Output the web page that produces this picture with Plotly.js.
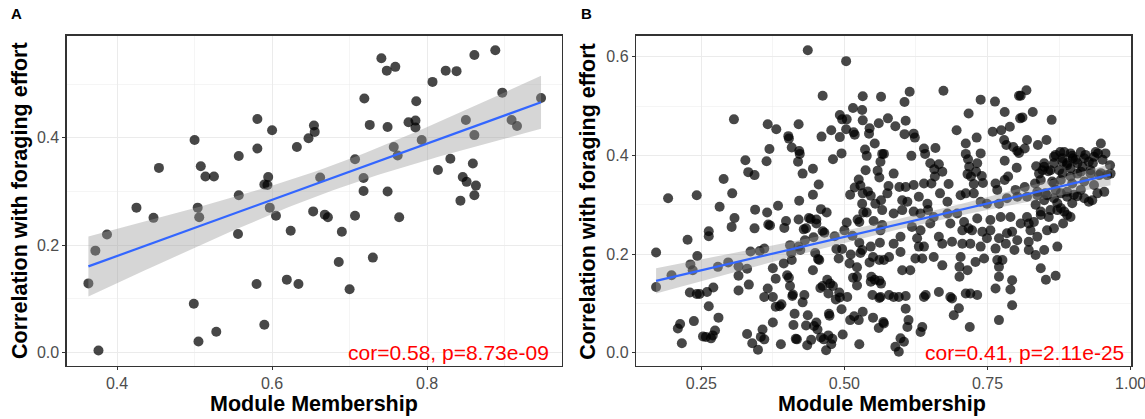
<!DOCTYPE html>
<html><head><meta charset="utf-8">
<script src="https://cdn.plot.ly/plotly-3.0.1.min.js"></script>
<style>html,body{margin:0;padding:0;background:#fff}</style>
</head><body>
<div id="chart" style="width:1145px;height:419px"></div>
<script>
// Panel A: module membership vs correlation with foraging effort
const mmA = [0.363,0.372,0.387,0.376,0.425,0.447,0.454,0.500,0.499,0.505,
0.508,0.514,0.525,0.504,0.506,0.528,0.557,0.557,0.556,0.581,
0.581,0.600,0.595,0.590,0.594,0.597,0.605,0.580,0.590,0.619,
0.624,0.632,0.634,0.647,0.654,0.655,0.662,0.653,0.668,0.672,
0.690,0.686,0.700,0.707,0.707,0.718,0.718,0.719,0.726,0.730,
0.741,0.748,0.759,0.749,0.749,0.757,0.762,0.764,0.776,0.785,
0.785,0.786,0.793,0.807,0.814,0.824,0.830,0.838,0.843,0.846,
0.851,0.850,0.861,0.861,0.859,0.863,0.861,0.888,0.897,0.909,
0.916,0.947];
const corA = [0.129,0.190,0.220,0.004,0.270,0.251,0.344,0.396,0.091,0.021,
0.347,0.328,0.328,0.270,0.252,0.039,0.366,0.293,0.221,0.435,
0.380,0.414,0.327,0.313,0.312,0.270,0.255,0.128,0.052,0.136,
0.227,0.383,0.128,0.399,0.423,0.411,0.326,0.263,0.257,0.252,
0.225,0.169,0.118,0.360,0.255,0.325,0.301,0.473,0.424,0.177,
0.548,0.525,0.532,0.420,0.300,0.383,0.367,0.252,0.429,0.432,
0.419,0.468,0.396,0.504,0.340,0.525,0.361,0.524,0.283,0.327,
0.318,0.433,0.554,0.405,0.352,0.311,0.293,0.563,0.484,0.433,
0.422,0.474];

// Panel B
const mmB = [
0.436,0.503,0.462,0.532,0.564,
0.307,0.366,0.381,0.420,0.492,0.496,0.504,0.515,0.531,0.532,0.560,
0.402,0.403,0.460,0.477,0.492,0.503,0.516,0.518,0.544,0.543,
0.369,0.408,0.421,0.422,0.419,0.364,0.495,0.480,0.536,0.539,0.553,0.566,
0.327,0.332,0.343,0.289,0.427,0.445,0.537,0.558,0.561,
0.192,0.242,0.304,0.282,0.455,0.445,0.510,0.518,0.525,0.528,0.532,0.541,0.546,0.554,0.564,
0.344,0.365,0.384,0.421,0.459,0.469,0.531,0.533,0.539,0.566,
0.308,0.303,0.367,0.370,0.398,0.395,0.420,0.438,0.441,0.451,0.451,0.343,0.263,0.263,0.429,0.433,0.504,0.500,0.523,0.526,0.551,
0.226,0.462,0.465,0.483,0.514,0.526,0.546,0.562,
0.171,0.243,0.336,0.352,0.360,0.405,0.420,0.423,0.431,0.446,0.486,0.496,0.511,0.528,0.531,0.550,
0.231,0.235,0.279,0.297,0.315,0.330,0.375,0.394,0.408,0.407,0.449,0.454,0.456,0.490,0.509,0.522,0.544,0.561,
0.198,0.171,0.315,0.380,0.400,0.403,0.445,0.470,0.475,0.515,0.522,0.547,0.553,0.561,0.564,0.546,
0.230,0.242,0.247,0.260,0.271,0.315,0.333,0.366,0.360,0.375,0.387,0.390,0.380,0.405,0.410,0.409,0.430,0.427,0.458,0.462,0.472,0.480,0.491,0.492,0.485,0.505,0.522,0.549,0.561,
0.263,0.280,0.237,0.213,0.209,0.253,0.258,0.267,0.274,0.270,0.216,0.330,0.339,0.349,0.354,0.360,0.357,0.375,0.389,0.411,0.413,0.415,0.417,0.436,0.433,0.435,0.442,0.447,0.451,0.453,0.459,0.464,0.468,0.473,0.474,0.479,0.477,0.472,0.495,0.497,0.510,0.517,0.525,0.526,0.532,0.550,0.560,0.568,
0.614,0.605,0.673,0.738,0.763,0.805,0.818,0.808,
0.576,0.607,0.589,0.717,0.780,0.829,0.862,0.807,0.811,
0.605,0.621,0.623,0.696,0.731,0.759,0.774,0.789,0.779,0.819,0.853,0.838,
0.639,0.641,0.659,0.617,0.569,0.712,0.712,0.716,0.738,0.783,0.795,0.802,0.805,0.815,0.948,0.877,0.895,0.899,0.913,0.919,0.936,0.943,
0.563,0.586,0.650,0.665,0.657,0.718,0.732,0.730,0.780,0.801,0.835,0.849,0.866,0.881,0.889,0.907,0.916,0.934,0.964,
0.577,0.596,0.607,0.621,0.639,0.652,0.658,0.671,0.682,0.715,0.721,0.740,0.742,0.726,0.764,0.780,0.786,0.767,0.799,0.815,0.833,0.840,0.846,0.856,0.866,0.881,0.895,0.907,0.930,0.945,0.965,
0.575,0.601,0.610,0.630,0.645,0.667,0.680,0.703,0.712,0.726,0.738,0.749,0.770,0.784,0.802,0.819,0.837,0.854,0.866,0.878,0.889,0.907,0.919,0.927,0.942,0.954,0.913,
0.586,0.601,0.621,0.633,0.646,0.656,0.680,0.697,0.709,0.717,0.732,0.755,0.773,0.790,0.808,0.819,0.831,0.843,0.857,0.872,0.884,0.895,0.882,
0.566,0.563,0.586,0.598,0.618,0.633,0.650,0.665,0.685,0.706,0.723,0.741,0.755,0.770,0.784,0.793,0.802,0.822,0.825,0.837,0.854,0.866,
0.569,0.578,0.598,0.627,0.630,0.639,0.671,0.688,0.706,0.720,0.738,0.749,0.764,0.782,0.797,0.822,0.822,0.834,0.849,0.872,
0.601,0.615,0.624,0.636,0.656,0.671,0.703,0.701,0.701,0.715,0.729,0.744,0.767,0.776,0.770,0.770,0.793,0.843,0.852,0.869,
0.563,0.578,0.586,0.595,0.607,0.639,0.642,0.665,0.685,0.688,0.700,0.691,0.712,0.720,0.732,0.764,0.790,0.793,
0.569,0.607,0.612,0.610,0.636,0.633,0.598,0.604,0.589,0.595,0.719,0.770,
0.869,0.884,0.898,0.921,0.939,0.956,0.889,0.904,0.927,0.951,0.866,0.881,
0.849,0.860,0.875,0.895,0.913,0.930,0.948,0.959,0.843,0.863,0.878,0.898,0.919,0.936,
0.837,0.851,0.869,0.889,0.901,0.933,0.898,0.872,0.849,0.878,0.860,0.843,0.889,0.834];
const corB = [
0.613,0.591,0.521,0.520,0.519,
0.473,0.463,0.453,0.463,0.482,0.473,0.473,0.496,0.492,0.471,0.465,
0.439,0.434,0.438,0.451,0.437,0.453,0.447,0.442,0.455,0.444,
0.413,0.416,0.409,0.403,0.387,0.388,0.404,0.392,0.412,0.399,0.424,0.403,
0.390,0.366,0.360,0.352,0.363,0.373,0.370,0.369,0.355,
0.313,0.319,0.323,0.296,0.341,0.320,0.320,0.335,0.351,0.339,0.323,0.327,0.318,0.302,0.309,
0.290,0.284,0.298,0.308,0.291,0.284,0.302,0.284,0.284,0.289,
0.273,0.255,0.260,0.258,0.267,0.253,0.270,0.273,0.271,0.262,0.270,0.252,0.246,0.236,0.250,0.252,0.264,0.248,0.270,0.265,0.267,
0.229,0.246,0.243,0.236,0.237,0.223,0.215,0.223,
0.203,0.196,0.205,0.206,0.211,0.218,0.215,0.208,0.228,0.234,0.210,0.210,0.199,0.202,0.208,0.194,
0.179,0.167,0.174,0.183,0.175,0.170,0.171,0.181,0.188,0.202,0.202,0.190,0.188,0.191,0.181,0.173,0.183,0.188,
0.157,0.133,0.156,0.150,0.157,0.152,0.167,0.148,0.140,0.152,0.154,0.154,0.148,0.146,0.140,0.144,
0.122,0.119,0.119,0.123,0.132,0.126,0.138,0.130,0.113,0.113,0.094,0.098,0.093,0.135,0.118,0.115,0.117,0.102,0.131,0.135,0.120,0.135,0.122,0.112,0.108,0.113,0.136,0.117,0.111,
0.094,0.071,0.064,0.058,0.049,0.033,0.032,0.029,0.045,0.035,0.019,0.038,0.019,0.006,0.032,0.027,0.047,0.061,0.017,0.056,0.079,0.028,0.027,0.076,0.055,0.015,0.026,0.054,0.061,0.047,0.031,0.027,0.005,0.079,0.075,0.028,0.017,0.035,0.088,0.037,0.066,0.074,0.066,0.017,0.083,0.071,0.050,0.062,
0.529,0.508,0.531,0.513,0.509,0.521,0.532,0.521,
0.475,0.470,0.459,0.485,0.488,0.488,0.472,0.475,0.477,
0.443,0.444,0.436,0.451,0.436,0.448,0.451,0.458,0.431,0.431,0.431,0.421,
0.414,0.403,0.415,0.399,0.403,0.424,0.403,0.392,0.404,0.421,0.417,0.409,0.405,0.414,0.424,0.407,0.404,0.394,0.407,0.394,0.397,0.404,
0.387,0.363,0.384,0.382,0.372,0.377,0.384,0.367,0.389,0.375,0.378,0.384,0.397,0.387,0.380,0.384,0.377,0.384,0.380,
0.338,0.336,0.336,0.340,0.343,0.343,0.357,0.367,0.342,0.362,0.357,0.358,0.344,0.342,0.343,0.350,0.357,0.330,0.330,0.336,0.343,0.363,0.370,0.368,0.343,0.363,0.357,0.363,0.363,0.360,0.363,
0.323,0.309,0.306,0.316,0.302,0.323,0.306,0.319,0.323,0.323,0.306,0.302,0.302,0.313,0.316,0.316,0.319,0.319,0.313,0.323,0.316,0.317,0.313,0.306,0.323,0.326,0.330,
0.282,0.289,0.286,0.282,0.289,0.275,0.282,0.282,0.265,0.252,0.272,0.269,0.275,0.275,0.262,0.275,0.265,0.286,0.275,0.289,0.286,0.275,0.262,
0.259,0.248,0.221,0.235,0.255,0.248,0.262,0.235,0.262,0.248,0.248,0.245,0.248,0.232,0.242,0.245,0.228,0.262,0.248,0.235,0.248,0.252,
0.188,0.194,0.204,0.232,0.215,0.215,0.221,0.225,0.221,0.221,0.215,0.232,0.211,0.221,0.208,0.225,0.208,0.198,0.208,0.215,
0.167,0.167,0.191,0.191,0.194,0.177,0.194,0.174,0.154,0.167,0.184,0.191,0.188,0.188,0.174,0.154,0.147,0.171,0.148,0.156,
0.113,0.117,0.113,0.113,0.115,0.113,0.117,0.123,0.113,0.110,0.090,0.076,0.120,0.120,0.117,0.130,0.128,0.096,
0.059,0.089,0.066,0.052,0.052,0.042,0.029,0.022,0.012,0.002,0.052,0.066,
0.401,0.407,0.399,0.401,0.407,0.404,0.384,0.391,0.387,0.391,0.384,0.394,
0.377,0.370,0.370,0.374,0.367,0.370,0.364,0.360,0.350,0.347,0.350,0.343,0.347,0.340,
0.326,0.323,0.330,0.326,0.320,0.309,0.303,0.303,0.309,0.293,0.289,0.279,0.279,0.300];

const statA = "cor=0.58, p=8.73e-09";
const statB = "cor=0.41, p=2.11e-25";
const panelLabels = ["A", "B"];
const xTitle = "Module Membership";
const yTitle = "Correlation with foraging effort";

// linear model fit with 95% confidence band (as geom_smooth(method="lm"))
function tcrit(df){
  const z = 1.959964;
  return z + (z**3 + z)/(4*df) + (5*z**5 + 16*z**3 + 3*z)/(96*df*df);
}
function lmBand(xs, ys){
  const n = xs.length;
  let mx = 0, my = 0;
  for (let i=0;i<n;i++){ mx += xs[i]; my += ys[i]; }
  mx /= n; my /= n;
  let sxx = 0, sxy = 0;
  for (let i=0;i<n;i++){ sxx += (xs[i]-mx)**2; sxy += (xs[i]-mx)*(ys[i]-my); }
  const b = sxy/sxx, a = my - b*mx;
  let sse = 0;
  for (let i=0;i<n;i++){ sse += (ys[i] - a - b*xs[i])**2; }
  const s = Math.sqrt(sse/(n-2)), t = tcrit(n-2);
  const lo = Math.min(...xs), hi = Math.max(...xs);
  const gx = [], fit = [], up = [], dn = [];
  for (let k=0;k<=80;k++){
    const x = lo + (hi-lo)*k/80;
    const yh = a + b*x;
    const se = s*Math.sqrt(1/n + (x-mx)**2/sxx);
    gx.push(x); fit.push(yh); up.push(yh + t*se); dn.push(yh - t*se);
  }
  return {gx, fit, up, dn};
}

function panelTraces(xs, ys, xa, ya){
  const m = lmBand(xs, ys);
  return [
    {type:'scatter', mode:'markers', x:xs, y:ys, xaxis:xa, yaxis:ya,
     marker:{size:10, color:'rgba(0,0,0,0.72)', line:{width:0}}, hoverinfo:'skip'},
    {type:'scatter', mode:'lines', x:m.gx.concat(m.gx.slice().reverse()),
     y:m.up.concat(m.dn.slice().reverse()), xaxis:xa, yaxis:ya,
     fill:'toself', fillcolor:'rgba(153,153,153,0.4)', line:{width:0}, hoverinfo:'skip'},
    {type:'scatter', mode:'lines', x:m.gx, y:m.fit, xaxis:xa, yaxis:ya,
     line:{color:'#3366FF', width:2.2}, hoverinfo:'skip'}
  ];
}

const data = panelTraces(mmA, corA, 'x', 'y').concat(panelTraces(mmB, corB, 'x2', 'y2'));

const tickFont = {family:'Liberation Sans, Arial, sans-serif', size:16, color:'#4D4D4D'};
function axisCommon(extra){
  return Object.assign({
    showline:true, mirror:true, linecolor:'#333333', linewidth:1.3,
    ticks:'outside', ticklen:3, tickwidth:1, tickcolor:'#333333',
    showgrid:true, gridcolor:'#EBEBEB', gridwidth:1, zeroline:false,
    tickfont:tickFont, fixedrange:true, ticklabeloverflow:'allow'
  }, extra);
}
const ydom = [0.1265, 0.9148];
const layout = {
  width:1145, height:419, margin:{l:0,r:0,t:0,b:0},
  paper_bgcolor:'#ffffff', plot_bgcolor:'#ffffff', showlegend:false,
  xaxis: axisCommon({domain:[0.05825,0.4908], range:[0.335,0.974], anchor:'y',
    tick0:0, dtick:0.2, tickformat:'.1f',
    minor:{dtick:0.1, showgrid:true, gridcolor:'#EBEBEB', gridwidth:0.5, ticklen:0}}),
  yaxis: axisCommon({domain:ydom, range:[-0.0247,0.590], anchor:'x',
    tick0:0, dtick:0.2, tickformat:'.1f',
    minor:{dtick:0.1, showgrid:true, gridcolor:'#EBEBEB', gridwidth:0.5, ticklen:0}}),
  xaxis2: axisCommon({domain:[0.5555,0.9882], range:[0.136,1.0015], anchor:'y2',
    tick0:0, dtick:0.25, tickformat:'.2f',
    minor:{dtick:0.125, showgrid:true, gridcolor:'#EBEBEB', gridwidth:0.5, ticklen:0}}),
  yaxis2: axisCommon({domain:ydom, range:[-0.027,0.6426], anchor:'x2',
    tick0:0, dtick:0.2, tickformat:'.1f',
    minor:{dtick:0.1, showgrid:true, gridcolor:'#EBEBEB', gridwidth:0.5, ticklen:0}}),
  annotations: [
    {text:'<b>'+panelLabels[0]+'</b>', xref:'paper', yref:'paper', x:0.0148, y:0.9666,
     xanchor:'center', yanchor:'middle', showarrow:false,
     font:{family:'Liberation Sans, Arial, sans-serif', size:15, color:'#000'}},
    {text:'<b>'+panelLabels[1]+'</b>', xref:'paper', yref:'paper', x:0.5118, y:0.9666,
     xanchor:'center', yanchor:'middle', showarrow:false,
     font:{family:'Liberation Sans, Arial, sans-serif', size:15, color:'#000'}},
    {text:'<b>'+xTitle+'</b>', xref:'paper', yref:'paper', x:0.2745, y:0.036,
     xanchor:'center', yanchor:'middle', showarrow:false,
     font:{family:'Liberation Sans, Arial, sans-serif', size:21.5, color:'#000'}},
    {text:'<b>'+xTitle+'</b>', xref:'paper', yref:'paper', x:0.7707, y:0.036,
     xanchor:'center', yanchor:'middle', showarrow:false,
     font:{family:'Liberation Sans, Arial, sans-serif', size:21.5, color:'#000'}},
    {text:'<b>'+yTitle+'</b>', xref:'paper', yref:'paper', x:0.0175, y:0.5206, textangle:-90,
     xanchor:'center', yanchor:'middle', showarrow:false,
     font:{family:'Liberation Sans, Arial, sans-serif', size:21.5, color:'#000'}},
    {text:'<b>'+yTitle+'</b>', xref:'paper', yref:'paper', x:0.5135, y:0.5206, textangle:-90,
     xanchor:'center', yanchor:'middle', showarrow:false,
     font:{family:'Liberation Sans, Arial, sans-serif', size:21.5, color:'#000'}},
    {text:statA, xref:'paper', yref:'paper', x:0.4812, y:0.1582,
     xanchor:'right', yanchor:'middle', showarrow:false,
     font:{family:'Liberation Sans, Arial, sans-serif', size:21, color:'#FF0000'}},
    {text:statB, xref:'paper', yref:'paper', x:0.9834, y:0.1582,
     xanchor:'right', yanchor:'middle', showarrow:false,
     font:{family:'Liberation Sans, Arial, sans-serif', size:21, color:'#FF0000'}}
  ]
};
Plotly.newPlot('chart', data, layout, {staticPlot:true, displayModeBar:false});
</script>
</body></html>
